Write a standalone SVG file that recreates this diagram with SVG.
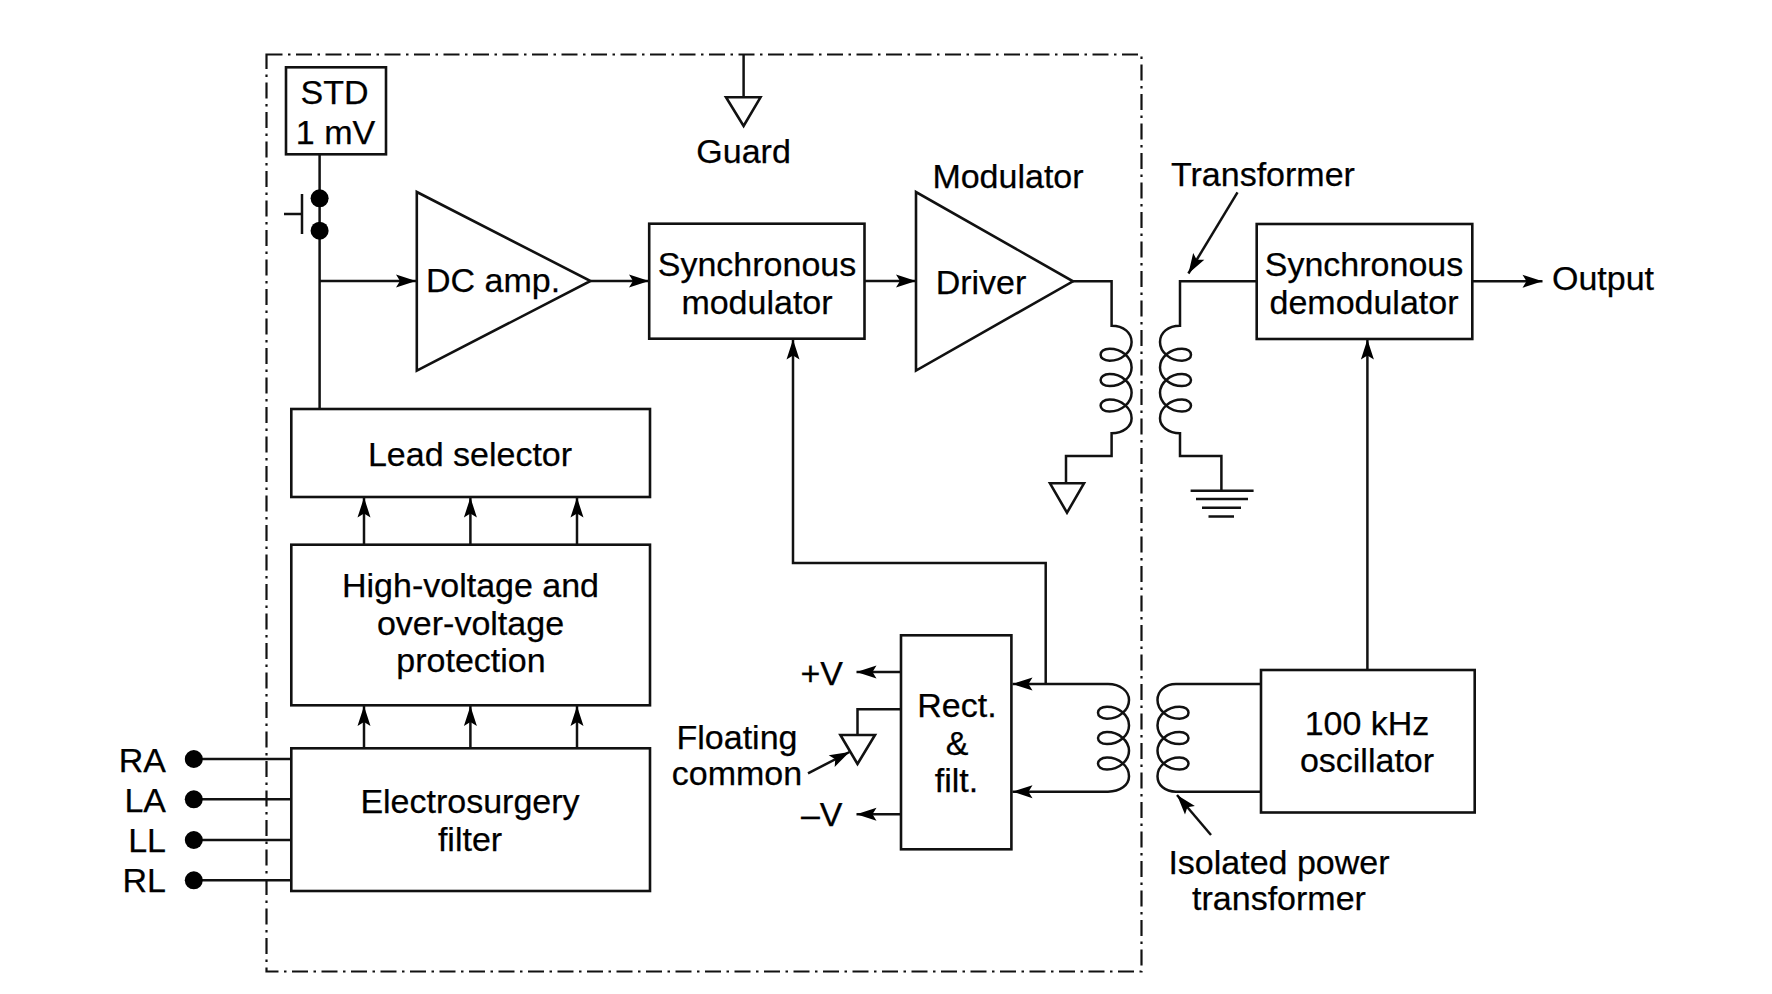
<svg xmlns="http://www.w3.org/2000/svg" width="1772" height="994" viewBox="0 0 1772 994">
<style>
text{font-family:"Liberation Sans",Arial,sans-serif;font-size:34px;fill:#000;stroke:#000;stroke-width:.25;text-anchor:middle}
.e{text-anchor:end}.s{text-anchor:start}
rect,polygon{fill:#fff;stroke:#111;stroke-width:2.6}
path.w,line{fill:none;stroke:#111;stroke-width:2.5}
.a{marker-end:url(#arr)}
.d{fill:#000;stroke:none}
</style>
<defs>
<marker id="arr" markerUnits="userSpaceOnUse" markerWidth="24" markerHeight="16" refX="21" refY="7.5" orient="auto"><path d="M21,7.5 L1,1 L5,7.5 L1,14 Z" fill="#000"/></marker>
</defs>
<rect width="1772" height="994" style="fill:#fff;stroke:none"/>
<g id="boundary"><path d="M266.5,54.5H1141.5V971.5H266.5Z" fill="none" stroke="#111" stroke-width="2.2" stroke-dasharray="16 5.5 2.5 5.5"/></g>
<g id="connectors">
<path class="w" d="M319.6,154V230V409"/>
<path class="w" d="M302,194V234M284,214H302"/>
<path class="w a" d="M319.6,281H416"/>
<path class="w a" d="M590.5,281H649"/>
<path class="w a" d="M865,281H916"/>
<path class="w" d="M743.6,54.5V97"/>
<path class="w a" d="M364,544.5V497.5"/><path class="w a" d="M470.4,544.5V497.5"/><path class="w a" d="M577,544.5V497.5"/>
<path class="w a" d="M364,748V706"/><path class="w a" d="M470.4,748V706"/><path class="w a" d="M577,748V706"/>
<path class="w" d="M194,759H291M194,799.3H291M194,840H291M194,880.3H291"/>
<path class="w a" d="M1045.7,684V563H793V339.5"/>
<path class="w a" d="M1108,684H1012.5"/>
<path class="w a" d="M1108,791.7H1012.5"/>
<path class="w a" d="M901,672H856.5"/>
<path class="w a" d="M901,814.3H856.5"/>
<path class="w" d="M901,709.3H857.5V735"/>
<path class="w a" d="M808,773.3L849.5,752"/>
<path class="w a" d="M1237.5,192.3L1188.4,273.5"/>
<path class="w a" d="M1211,835L1177,795"/>
<path class="w a" d="M1367.4,670V339.5"/>
<path class="w a" d="M1472.3,281.3H1542.5"/>
<path class="w" d="M1073,281.3H1111.6V325.7c12,0 20,7 20,16.3c0,10 -10,18.7 -22,18.7c-6,0 -9,-3 -9,-6c0,-3 3,-6 9,-6c12,0 22,8.7 22,18.7c0,10 -10,18.7 -22,18.7c-6,0 -9,-3 -9,-6c0,-3 3,-6 9,-6c12,0 22,8.7 22,18.7c0,10 -10,18.7 -22,18.7c-6,0 -9,-3 -9,-6c0,-3 3,-6 9,-6c12,0 22,8.7 22,18.7c0,8 -8,15 -20,15V456H1066V483"/>
<path class="w" d="M1256.7,281.3H1180V325.7c-12,0 -20,7 -20,16.3c0,10 10,18.7 22,18.7c6,0 9,-3 9,-6c0,-3 -3,-6 -9,-6c-12,0 -22,8.7 -22,18.7c0,10 10,18.7 22,18.7c6,0 9,-3 9,-6c0,-3 -3,-6 -9,-6c-12,0 -22,8.7 -22,18.7c0,10 10,18.7 22,18.7c6,0 9,-3 9,-6c0,-3 -3,-6 -9,-6c-12,0 -22,8.7 -22,18.7c0,8 8,15 20,15V456H1221.4V490.7"/>
<path class="w" d="M1190.6,490.7H1253.6M1196,499H1248M1202,507.7H1241M1208.5,516.5H1234"/>
<path class="w" d="M1108,684c12,0 21,7 21,16c0,10 -10,18.7 -22,18.7c-6,0 -9,-3 -9,-6c0,-3 3,-6 9,-6c12,0 22,8.7 22,18.7c0,10 -10,18.7 -22,18.7c-6,0 -9,-3 -9,-6c0,-3 3,-6 9,-6c12,0 22,8.7 22,18.7c0,10 -10,18.7 -22,18.7c-6,0 -9,-3 -9,-6c0,-3 3,-6 9,-6c12,0 22,8.7 22,18.7c0,9 -9,15.5 -21,15.5"/>
<path class="w" d="M1261,684H1176c-11,0 -18.5,7 -18.5,16c0,10 10,18.7 22,18.7c6,0 9,-3 9,-6c0,-3 -3,-6 -9,-6c-12,0 -22,8.7 -22,18.7c0,10 10,18.7 22,18.7c6,0 9,-3 9,-6c0,-3 -3,-6 -9,-6c-12,0 -22,8.7 -22,18.7c0,10 10,18.7 22,18.7c6,0 9,-3 9,-6c0,-3 -3,-6 -9,-6c-12,0 -22,8.7 -22,18.7c0,9 7.5,15.5 18.5,15.5H1261"/>
</g>
<g id="std"><rect x="286" y="67.3" width="100" height="87"/><text x="334.5" y="104">STD</text><text x="335.5" y="143.5">1 mV</text></g>
<g id="switch"><circle class="d" cx="319.6" cy="198.3" r="9"/><circle class="d" cx="319.6" cy="230.7" r="9"/></g>
<g id="guard"><polygon points="726,97.3 760.5,97.3 743.6,126"/><text x="743.6" y="163">Guard</text></g>
<g id="dc-amp"><polygon points="416.8,192 416.8,370.7 590.5,281"/><text class="s" x="426" y="291.5">DC amp.</text></g>
<g id="sync-mod"><rect x="649.2" y="223.7" width="215.3" height="115"/><text x="757" y="276">Synchronous</text><text x="757" y="313.5">modulator</text></g>
<g id="driver"><polygon points="916,192 916,370.6 1073,281.3"/><text x="981" y="294">Driver</text></g>
<g id="modulator-label"><text x="1008" y="187.6">Modulator</text></g>
<g id="transformer-label"><text class="s" x="1171" y="185.5">Transformer</text></g>
<g id="sync-demod"><rect x="1256.7" y="224" width="215.6" height="115"/><text x="1364" y="276">Synchronous</text><text x="1364" y="313.5">demodulator</text></g>
<g id="output"><text class="s" x="1552" y="290">Output</text></g>
<g id="primary-ground"><polygon points="1050,483.3 1084,483.3 1067,512.7"/></g>
<g id="lead-selector"><rect x="291.3" y="409" width="358.7" height="88"/><text x="470" y="466">Lead selector</text></g>
<g id="hv-protection"><rect x="291.3" y="544.7" width="358.7" height="160.6"/><text x="470.5" y="597">High-voltage and</text><text x="470.5" y="635">over-voltage</text><text x="471" y="672">protection</text></g>
<g id="es-filter"><rect x="291.3" y="748.3" width="358.7" height="142.7"/><text x="470" y="813">Electrosurgery</text><text x="470" y="850.7">filter</text></g>
<g id="leads"><circle class="d" cx="193.8" cy="759" r="9"/><circle class="d" cx="193.8" cy="799.3" r="9"/><circle class="d" cx="193.8" cy="840" r="9"/><circle class="d" cx="193.8" cy="880.3" r="9"/>
<text class="e" x="166" y="771.7">RA</text><text class="e" x="166" y="811.7">LA</text><text class="e" x="166" y="852">LL</text><text class="e" x="166" y="892">RL</text></g>
<g id="rect-filt"><rect x="901" y="635.3" width="110.4" height="214"/><text x="957" y="717">Rect.</text><text x="957" y="755">&amp;</text><text x="956.5" y="791.7">filt.</text></g>
<g id="supply-labels"><text class="e" x="843" y="684.5">+V</text><text class="e" x="842.5" y="826">–V</text></g>
<g id="floating-common"><polygon points="840.4,735 875,735 857.5,764"/><text x="737" y="748.5">Floating</text><text x="737" y="785">common</text></g>
<g id="oscillator"><rect x="1261" y="670" width="213.7" height="142.5"/><text x="1367" y="734.5">100 kHz</text><text x="1367" y="772">oscillator</text></g>
<g id="isolated-label"><text x="1279" y="873.5">Isolated power</text><text x="1279" y="910">transformer</text></g>
</svg>
